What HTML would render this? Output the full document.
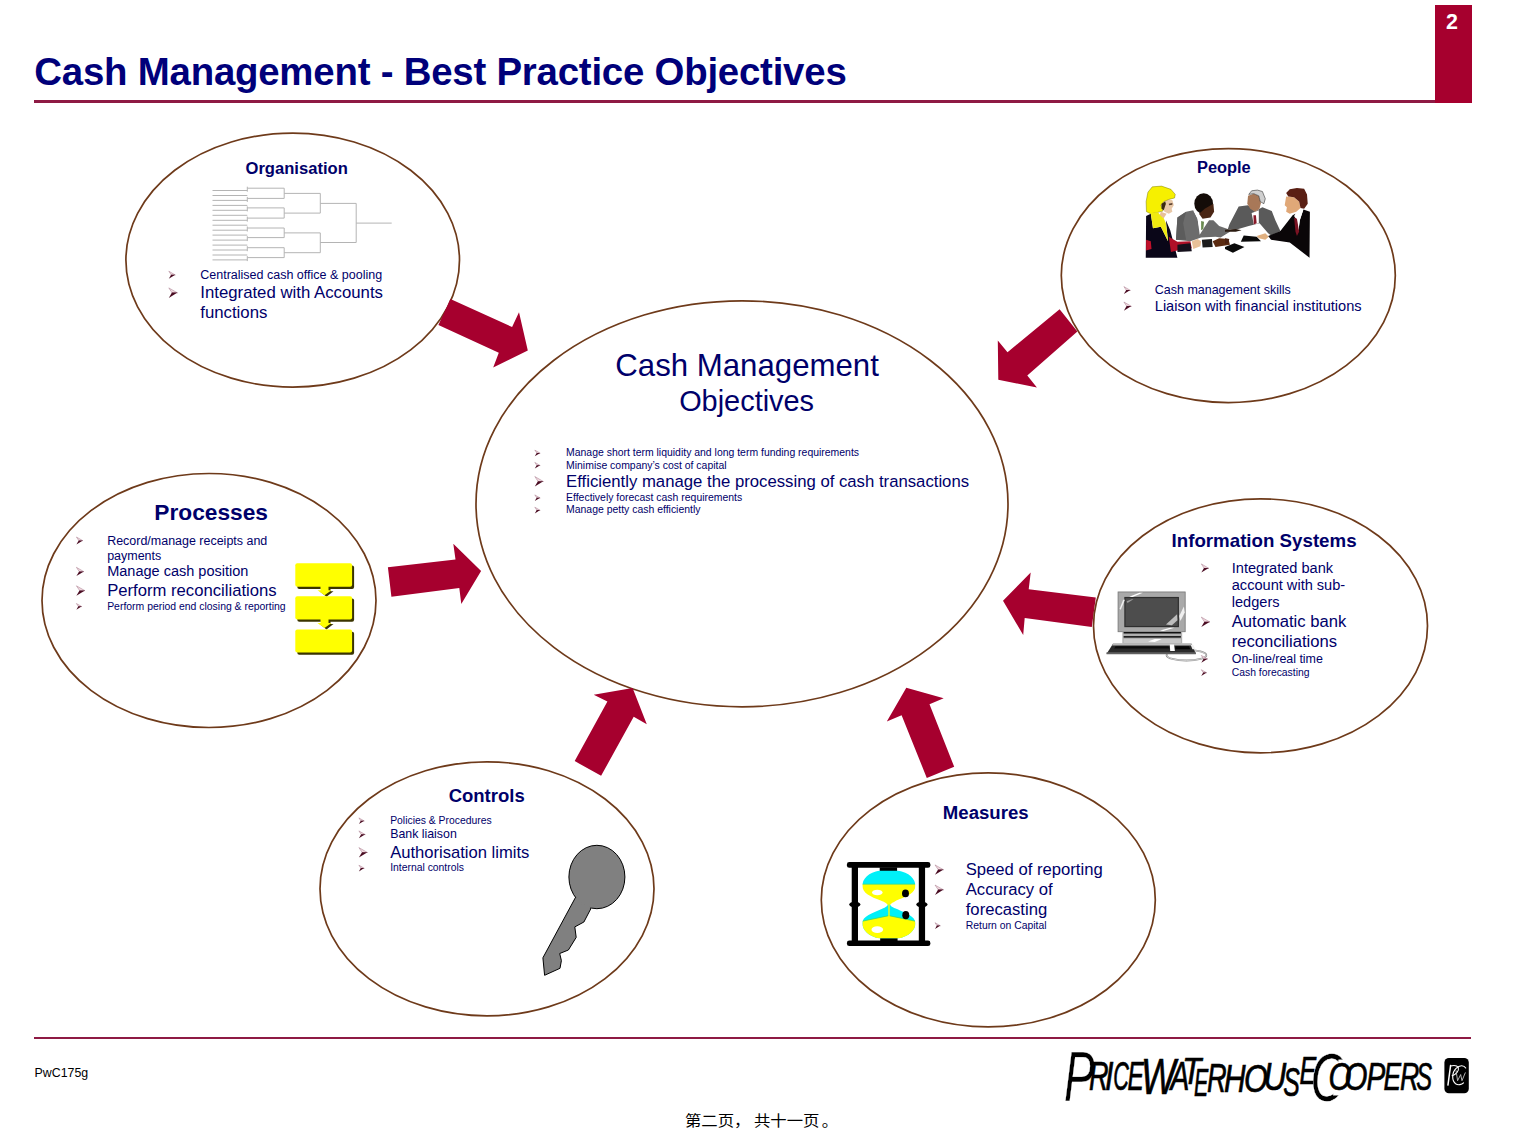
<!DOCTYPE html>
<html><head><meta charset="utf-8"><title>Cash Management - Best Practice Objectives</title>
<style>
html,body{margin:0;padding:0;background:#fff;}
body{width:1521px;height:1140px;position:relative;overflow:hidden;font-family:"Liberation Sans","Noto Sans CJK SC",sans-serif;}
.t{position:absolute;white-space:nowrap;line-height:1;margin:0;}
svg{position:absolute;left:0;top:0;}
.bar{position:absolute;background:#a6002e;}
</style></head><body>

<div class="bar" style="left:34px;top:100px;width:1402px;height:2.6px;background:#8e1a44"></div>
<div class="bar" style="left:1435.3px;top:4.7px;width:36.6px;height:97.9px"></div>
<div class="bar" style="left:34px;top:1036.8px;width:1437px;height:2px;background:#8e1a44"></div>
<svg width="1521" height="1140" viewBox="0 0 1521 1140">
<ellipse cx="742.0" cy="503.8" rx="266.0" ry="203.0" fill="#fff" stroke="#6e3a1a" stroke-width="1.7"/>
<polygon points="1059.6,309.3 1077.4,331.5 1027.3,375.4 1036.9,387.4 998.3,379.7 997.8,340.6 1007.5,352.2" fill="#a6002e"/>
<polygon points="1095.8,597.5 1028.7,589.2 1030.7,572.6 1003.0,600.7 1023.2,635.0 1024.7,618.0 1091.8,627.1" fill="#a6002e"/>
<polygon points="926.8,777.9 901.6,715.3 886.8,721.6 906.3,687.7 943.7,698.2 929.5,704.2 954.2,766.8" fill="#a6002e"/>
<polygon points="387.9,567.2 455.5,559.5 453.3,543.7 481.1,571.0 461.3,603.9 459.3,588.1 391.4,596.7" fill="#a6002e"/>
<polygon points="574.7,761.1 607.4,701.6 593.7,694.7 632.6,687.9 646.8,724.2 633.7,716.8 601.1,775.8" fill="#a6002e"/>
<ellipse cx="292.7" cy="260.1" rx="166.8" ry="127.0" fill="#fff" stroke="#6e3a1a" stroke-width="1.7"/>
<ellipse cx="1228.3" cy="275.6" rx="167.0" ry="127.0" fill="#fff" stroke="#6e3a1a" stroke-width="1.7"/>
<ellipse cx="209.0" cy="600.5" rx="167.0" ry="127.0" fill="#fff" stroke="#6e3a1a" stroke-width="1.7"/>
<ellipse cx="1260.5" cy="625.8" rx="167.0" ry="127.0" fill="#fff" stroke="#6e3a1a" stroke-width="1.7"/>
<ellipse cx="487.0" cy="888.8" rx="167.0" ry="127.0" fill="#fff" stroke="#6e3a1a" stroke-width="1.7"/>
<ellipse cx="988.3" cy="899.9" rx="167.0" ry="127.0" fill="#fff" stroke="#6e3a1a" stroke-width="1.7"/>
<polygon points="450.4,298.9 512.1,327.0 519.0,312.2 527.8,350.5 493.2,367.5 498.8,352.8 438.4,325.1" fill="#a6002e"/>
<path d="M212.5 190.5H247.3 M212.5 195.5H247.3 M212.5 200.4H247.3 M212.5 205.4H247.3 M212.5 210.3H247.3 M212.5 215.3H247.3 M212.5 220.3H247.3 M212.5 225.2H247.3 M212.5 230.2H247.3 M212.5 235.1H247.3 M212.5 240.1H247.3 M212.5 245.1H247.3 M212.5 250.0H247.3 M212.5 255.0H247.3 M212.5 259.9H247.3 M247.3 188.2H284.2 M247.3 198.4H284.2 M247.3 207.9H284.2 M247.3 218.1H284.2 M247.3 228.0H284.2 M247.3 237.6H284.2 M247.3 247.7H284.2 M247.3 257.6H284.2 M247.3 186.7V191.7 M247.3 196.9V201.9 M247.3 206.4V211.4 M247.3 216.6V221.6 M247.3 226.5V231.5 M247.3 236.1V241.1 M247.3 246.2V251.2 M247.3 256.1V261.1 M284.2 188.2V198.4 M284.2 207.9V218.1 M284.2 228.0V237.6 M284.2 247.7V257.6 M284.2 193.4H320.3 M284.2 213.1H320.3 M284.2 232.9H320.3 M284.2 252.7H320.3 M320.3 193.4V213.1 M320.3 232.9V252.7 M320.3 203.4H356.2 M320.3 242.5H356.2 M356.2 203.4V242.5 M356.2 223.1H391.7" fill="none" stroke="#b4b4b4" stroke-width="1"/>
<g transform="translate(1140,180) scale(0.07194)"><polygon points="85,500 150,470 180,670 290,650 390,850 360,560 420,700 520,1080 80,1080" fill="#0a0618" /><polygon points="85,830 150,850 160,960 85,980" fill="#c0102a" /><polygon points="400,790 520,860 700,850 720,950 520,980 430,1000" fill="#b01028" /><polygon points="520,900 700,880 720,990 520,1000" fill="#15101c" /><polygon points="290,440 370,470 330,530 270,500" fill="#e8c098" /><polygon points="330,300 400,270 450,280 470,350 440,400 450,440 400,470 340,440 290,350" fill="#e8c8a8" /><polygon points="90,440 85,300 110,170 170,95 300,85 430,130 490,200 480,250 400,270 330,300 290,350 320,430 250,450 150,470" fill="#f6f000" stroke="#6a6a00" stroke-width="6"/><polygon points="150,460 250,450 290,500 330,530 360,600 390,850 290,650 180,670" fill="#f0ea10" /><polygon points="720,850 800,820 850,850 840,920 740,960" fill="#e8c098" /><polygon points="300,330 350,300 360,330 330,420 300,400" fill="#3a2a10" /><polygon points="400,330 450,320 450,345 405,350" fill="#5a4030" /><polygon points="520,520 640,440 740,420 800,540 830,760 900,650 960,560 1020,560 1100,640 1250,690 1250,720 1120,800 1050,790 850,800 700,850 500,830" fill="#6c6c6c" /><polygon points="520,520 640,440 600,600 640,830 500,830" fill="#5c5c5c" /><polygon points="740,420 800,470 850,560 830,700 800,540" fill="#ffffff" /><polygon points="850,570 890,580 880,680 850,700" fill="#6a8a50" /><ellipse cx="885" cy="330" rx="130" ry="145" fill="#140c08"/><polygon points="900,400 1020,330 1030,440 980,520 870,540 820,470" fill="#4a2614" /><polygon points="860,830 1000,820 1010,930 870,940" fill="#1c1c1c" /><polygon points="1010,850 1100,810 1230,820 1250,900 1050,930" fill="#5a2a10" /></g>
<g transform="translate(1225,180) scale(0.07194)"><polygon points="190,370 320,350 420,440 480,400 520,380 650,430 700,560 770,710 640,770 600,740 480,600 330,640 150,690 40,680 60,620" fill="#5a5a5a" /><polygon points="370,460 420,440 470,420 470,600 400,620" fill="#ffffff" /><polygon points="395,490 430,490 440,600 400,620" fill="#8a1a2a" /><polygon points="320,220 400,190 470,220 500,320 480,400 420,440 350,400 310,330" fill="#a87858" /><polygon points="330,200 370,150 450,140 520,160 560,260 540,330 490,300 470,220 400,190" fill="#d0d0d0" stroke="#303030" stroke-width="8"/><polygon points="260,770 440,790 500,850 220,860" fill="#0a0a0a" /><polygon points="440,780 560,740 610,790 560,830 470,810" fill="#e0b080" /><polygon points="0,690 150,680 230,700 150,720 0,720" fill="#2a1a10" /><polygon points="0,930 130,880 270,930 110,1010 0,960" fill="#0a0a0a" /><polygon points="0,810 60,820 40,880 0,890" fill="#4a2010" /><polygon points="940,490 980,470 1000,560 1020,720 1040,560 1090,410 1180,440 1175,1080 900,870 640,830 600,780 770,710" fill="#0a0608" /><polygon points="980,470 1090,410 1040,560 1020,700 1000,560 960,500" fill="#ffffff" /><polygon points="960,520 1000,540 1030,720 1000,780 980,720" fill="#7a1222" /><polygon points="850,230 960,240 1030,300 1050,390 990,440 900,470 850,440 860,380 830,350" fill="#e0a878" /><polygon points="850,180 900,130 1000,110 1100,120 1140,200 1150,330 1100,400 1050,390 1030,300 960,240 880,230" fill="#5a1f14" /></g>
<rect x="297.3" y="565.4" width="56.8" height="23.6" rx="2" fill="#3a3400"/><rect x="297.3" y="598.5" width="56.8" height="23.2" rx="2" fill="#3a3400"/><rect x="297.3" y="631.7" width="56.8" height="23.1" rx="2" fill="#3a3400"/><polygon points="322.5,586.8 330.5,586.8 330.5,591.3 333.5,591.3 326.5,596.8 319.5,591.3 322.5,591.3" fill="#3a3400"/><polygon points="322.5,619.5 330.5,619.5 330.5,624.0 333.5,624.0 326.5,629.5 319.5,624.0 322.5,624.0" fill="#3a3400"/><rect x="295.3" y="563.2" width="56.8" height="23.6" rx="2" fill="#ffff00"/><rect x="295.3" y="596.3" width="56.8" height="23.2" rx="2" fill="#ffff00"/><rect x="295.3" y="629.5" width="56.8" height="23.1" rx="2" fill="#ffff00"/><polygon points="320.5,585.8 328.5,585.8 328.5,590.3 331.5,590.3 324.5,595.3 317.5,590.3 320.5,590.3" fill="#ffff00"/><polygon points="320.5,618.5 328.5,618.5 328.5,623.0 331.5,623.0 324.5,628.0 317.5,623.0 320.5,623.0" fill="#ffff00"/>
<g transform="translate(1095,580) scale(0.08547)"><ellipse cx="1070" cy="880" rx="232" ry="62" fill="none" stroke="#909090" stroke-width="22"/><ellipse cx="1070" cy="880" rx="232" ry="62" fill="none" stroke="#e8e8e8" stroke-width="8"/><rect x="270" y="140" width="785" height="465" fill="#a9a9a9" stroke="#7a7a7a" stroke-width="10"/><rect x="350" y="205" width="625" height="340" fill="#4d4d4d" stroke="#2e2e2e" stroke-width="14"/><polygon points="400,195 520,150 560,150 440,200" fill="#ffffff" /><polygon points="290,330 330,230 350,230 300,350" fill="#f0f0f0" /><polygon points="985,420 1040,310 1050,380 1000,480" fill="#f0f0f0" /><polygon points="830,520 960,400 965,470 900,530" fill="#bdbdbd" /><polygon points="370,250 430,225 450,225 380,270" fill="#9a9a9a" /><polygon points="760,590 880,560 930,560 800,598" fill="#ffffff" /><rect x="320" y="605" width="700" height="135" fill="#b0b0b0"/><rect x="335" y="608" width="670" height="18" fill="#101010"/><rect x="335" y="655" width="670" height="20" fill="#202020"/><rect x="335" y="690" width="670" height="50" fill="#c8c8c8"/><polygon points="620,720 700,690 780,690 700,725" fill="#ffffff" /><polygon points="210,745 1130,745 1180,865 135,865" fill="#2a2a2a" /><polygon points="210,745 1130,745 1140,765 200,765" fill="#b8b8b8" /><polygon points="240,775 860,775 870,800 225,800" fill="#0c0c0c" /><polygon points="940,775 1100,775 1115,810 940,810" fill="#050505" /><polygon points="875,755 925,755 935,830 880,830" fill="#ffffff" /><polygon points="1120,760 1150,760 1175,810 1140,810" fill="#f0f0f0" /><polygon points="135,845 1180,845 1180,868 135,868" fill="#606060" /></g>
<path d="M575.5 897.4 L542.9 957.8 L544.6 975.3 L560.0 968.3 L561.4 960.6 L559.7 953.5 L568.4 950.0 L576.2 937.4 L574.8 926.9 L583.9 922.0 L590.9 908.6 Z" fill="#808080" stroke="#000" stroke-width="1" stroke-linejoin="round"/>
<ellipse cx="596.9" cy="877" rx="28" ry="31.7" fill="#808080" stroke="#000" stroke-width="1"/>
<clipPath id="kc"><polygon points="579.1,892.5 573.4,903.1 587.3,913.5 592.9,902.9"/></clipPath>
<ellipse cx="596.9" cy="877" rx="28" ry="31.7" fill="none" stroke="#808080" stroke-width="2.4" clip-path="url(#kc)"/>
<g transform="translate(830,850) scale(0.09653)"><rect x="175" y="125" width="865" height="60" rx="25" fill="#000"/><rect x="175" y="938" width="865" height="57" rx="25" fill="#000"/><rect x="225" y="150" width="65" height="810" fill="#000"/><rect x="920" y="150" width="65" height="810" fill="#000"/><ellipse cx="257" cy="565" rx="58" ry="30" fill="#000"/><ellipse cx="952" cy="565" rx="58" ry="30" fill="#000"/><rect x="515" y="180" width="180" height="40" fill="#000"/><rect x="520" y="905" width="180" height="40" fill="#000"/><clipPath id="ub"><path d="M515 212 C400 230 335 300 335 370 C335 445 420 485 525 522 C575 542 596 556 599 572 L623 572 C626 556 655 540 705 515 C795 480 885 445 885 370 C885 300 820 230 700 212 Z"/></clipPath><g clip-path="url(#ub)"><rect x="300" y="200" width="620" height="155" fill="#00f0f8"/><rect x="300" y="355" width="620" height="230" fill="#ffff00"/><rect x="300" y="350" width="620" height="8" fill="#40d860"/></g><clipPath id="lb"><path d="M599 565 C596 580 585 590 535 612 C440 655 335 685 335 760 C335 830 400 900 520 918 L700 918 C820 900 885 830 885 760 C885 685 780 655 700 615 C645 595 626 580 623 565 Z"/></clipPath><g clip-path="url(#lb)"><rect x="300" y="560" width="620" height="370" fill="#00f0f8"/><path d="M300 745 L610 680 L920 745 L920 940 L300 940 Z" fill="#ffff00"/><path d="M300 745 L610 680 L920 745" fill="none" stroke="#40d860" stroke-width="8"/><rect x="604" y="560" width="14" height="140" fill="#ffff00"/></g><ellipse cx="782" cy="450" rx="36" ry="40" fill="#000"/><ellipse cx="785" cy="675" rx="36" ry="42" fill="#000"/><ellipse cx="490" cy="440" rx="55" ry="28" fill="#fff"/><ellipse cx="490" cy="825" rx="60" ry="35" fill="#fff"/></g>
<polygon points="168.8,271.2 175.3,275.0 171.3,275.0" fill="#f1d9e0" stroke="#a5788a" stroke-width="0.5"/>
<polygon points="168.8,278.7 175.3,274.7 171.1,274.7" fill="#4a0c22"/>
<polygon points="168.8,287.9 177.5,292.9 172.1,292.9" fill="#f1d9e0" stroke="#a5788a" stroke-width="0.5"/>
<polygon points="168.8,297.9 177.5,292.6 171.9,292.6" fill="#4a0c22"/>
<polygon points="1123.9,286.6 1130.4,290.4 1126.4,290.4" fill="#f1d9e0" stroke="#a5788a" stroke-width="0.5"/>
<polygon points="1123.9,294.1 1130.4,290.1 1126.2,290.1" fill="#4a0c22"/>
<polygon points="1123.9,302.0 1131.4,306.3 1126.8,306.3" fill="#f1d9e0" stroke="#a5788a" stroke-width="0.5"/>
<polygon points="1123.9,310.7 1131.4,306.0 1126.6,306.0" fill="#4a0c22"/>
<polygon points="534.8,450.1 540.2,453.2 536.9,453.2" fill="#f1d9e0" stroke="#a5788a" stroke-width="0.5"/>
<polygon points="534.8,456.3 540.2,452.9 536.7,452.9" fill="#4a0c22"/>
<polygon points="534.8,462.4 540.2,465.5 536.9,465.5" fill="#f1d9e0" stroke="#a5788a" stroke-width="0.5"/>
<polygon points="534.8,468.6 540.2,465.2 536.7,465.2" fill="#4a0c22"/>
<polygon points="534.8,476.5 543.4,481.5 538.1,481.5" fill="#f1d9e0" stroke="#a5788a" stroke-width="0.5"/>
<polygon points="534.8,486.5 543.4,481.2 537.9,481.2" fill="#4a0c22"/>
<polygon points="534.8,494.9 540.2,498.0 536.9,498.0" fill="#f1d9e0" stroke="#a5788a" stroke-width="0.5"/>
<polygon points="534.8,501.1 540.2,497.7 536.7,497.7" fill="#4a0c22"/>
<polygon points="534.8,507.2 540.2,510.3 536.9,510.3" fill="#f1d9e0" stroke="#a5788a" stroke-width="0.5"/>
<polygon points="534.8,513.4 540.2,510.0 536.7,510.0" fill="#4a0c22"/>
<polygon points="76.4,537.0 82.9,540.7 78.9,540.7" fill="#f1d9e0" stroke="#a5788a" stroke-width="0.5"/>
<polygon points="76.4,544.4 82.9,540.4 78.7,540.4" fill="#4a0c22"/>
<polygon points="76.4,567.3 83.9,571.7 79.3,571.7" fill="#f1d9e0" stroke="#a5788a" stroke-width="0.5"/>
<polygon points="76.4,576.0 83.9,571.4 79.1,571.4" fill="#4a0c22"/>
<polygon points="76.4,585.8 85.0,590.7 79.7,590.7" fill="#f1d9e0" stroke="#a5788a" stroke-width="0.5"/>
<polygon points="76.4,595.7 85.0,590.4 79.5,590.4" fill="#4a0c22"/>
<polygon points="76.4,603.5 81.8,606.6 78.4,606.6" fill="#f1d9e0" stroke="#a5788a" stroke-width="0.5"/>
<polygon points="76.4,609.7 81.8,606.3 78.3,606.3" fill="#4a0c22"/>
<polygon points="1201.3,563.9 1208.8,568.3 1204.2,568.3" fill="#f1d9e0" stroke="#a5788a" stroke-width="0.5"/>
<polygon points="1201.3,572.6 1208.8,568.0 1204.0,568.0" fill="#4a0c22"/>
<polygon points="1201.3,617.1 1209.9,622.0 1204.6,622.0" fill="#f1d9e0" stroke="#a5788a" stroke-width="0.5"/>
<polygon points="1201.3,627.0 1209.9,621.7 1204.4,621.7" fill="#4a0c22"/>
<polygon points="1201.3,655.4 1207.7,659.1 1203.7,659.1" fill="#f1d9e0" stroke="#a5788a" stroke-width="0.5"/>
<polygon points="1201.3,662.8 1207.7,658.8 1203.6,658.8" fill="#4a0c22"/>
<polygon points="1201.3,669.7 1206.7,672.8 1203.3,672.8" fill="#f1d9e0" stroke="#a5788a" stroke-width="0.5"/>
<polygon points="1201.3,675.9 1206.7,672.5 1203.2,672.5" fill="#4a0c22"/>
<polygon points="358.9,817.9 364.3,821.0 360.9,821.0" fill="#f1d9e0" stroke="#a5788a" stroke-width="0.5"/>
<polygon points="358.9,824.1 364.3,820.7 360.8,820.7" fill="#4a0c22"/>
<polygon points="358.9,830.9 365.3,834.6 361.3,834.6" fill="#f1d9e0" stroke="#a5788a" stroke-width="0.5"/>
<polygon points="358.9,838.3 365.3,834.3 361.2,834.3" fill="#4a0c22"/>
<polygon points="358.9,847.6 367.5,852.5 362.2,852.5" fill="#f1d9e0" stroke="#a5788a" stroke-width="0.5"/>
<polygon points="358.9,857.5 367.5,852.2 362.0,852.2" fill="#4a0c22"/>
<polygon points="358.9,865.2 364.3,868.3 360.9,868.3" fill="#f1d9e0" stroke="#a5788a" stroke-width="0.5"/>
<polygon points="358.9,871.4 364.3,868.0 360.8,868.0" fill="#4a0c22"/>
<polygon points="935.0,864.9 943.6,869.8 938.3,869.8" fill="#f1d9e0" stroke="#a5788a" stroke-width="0.5"/>
<polygon points="935.0,874.8 943.6,869.5 938.1,869.5" fill="#4a0c22"/>
<polygon points="935.0,885.0 943.6,889.9 938.3,889.9" fill="#f1d9e0" stroke="#a5788a" stroke-width="0.5"/>
<polygon points="935.0,894.9 943.6,889.6 938.1,889.6" fill="#4a0c22"/>
<polygon points="935.0,922.7 940.4,925.8 937.0,925.8" fill="#f1d9e0" stroke="#a5788a" stroke-width="0.5"/>
<polygon points="935.0,928.9 940.4,925.5 936.9,925.5" fill="#4a0c22"/>
</svg>
<svg width="1521" height="1140" viewBox="0 0 1521 1140" style="font-family:'Liberation Sans','Noto Sans CJK SC',sans-serif">
<text x="34.32" y="85.00" font-size="38.40" font-weight="bold" fill="#00007a" letter-spacing="-0.22">Cash Management - Best Practice Objectives</text>
<text x="245.52" y="173.60" font-size="16.59" font-weight="bold" fill="#00006a">Organisation</text>
<text x="200.27" y="279.10" font-size="12.51" font-weight="normal" fill="#00006a">Centralised cash office &amp; pooling</text>
<text x="200.27" y="298.30" font-size="16.77" font-weight="normal" fill="#00006a">Integrated with Accounts</text>
<text x="200.27" y="317.90" font-size="16.77" font-weight="normal" fill="#00006a">functions</text>
<text x="1197.00" y="172.50" font-size="16.39" font-weight="bold" fill="#00006a">People</text>
<text x="1154.77" y="293.70" font-size="12.49" font-weight="normal" fill="#00006a">Cash management skills</text>
<text x="1154.77" y="311.10" font-size="14.60" font-weight="normal" fill="#00006a">Liaison with financial institutions</text>
<text x="615.32" y="375.70" font-size="31.20" font-weight="normal" fill="#00006a">Cash Management</text>
<text x="679.13" y="411.00" font-size="28.92" font-weight="normal" fill="#00006a">Objectives</text>
<text x="566.05" y="456.10" font-size="10.44" font-weight="normal" fill="#00006a">Manage short term liquidity and long term funding requirements</text>
<text x="566.05" y="468.70" font-size="10.44" font-weight="normal" fill="#00006a">Minimise company’s cost of capital</text>
<text x="566.05" y="486.50" font-size="16.73" font-weight="normal" fill="#00006a">Efficiently manage the processing of cash transactions</text>
<text x="566.05" y="500.90" font-size="10.44" font-weight="normal" fill="#00006a">Effectively forecast cash requirements</text>
<text x="566.05" y="513.40" font-size="10.44" font-weight="normal" fill="#00006a">Manage petty cash efficiently</text>
<text x="154.28" y="519.90" font-size="22.72" font-weight="bold" fill="#00006a">Processes</text>
<text x="107.18" y="544.80" font-size="12.48" font-weight="normal" fill="#00006a">Record/manage receipts and</text>
<text x="107.18" y="559.60" font-size="12.48" font-weight="normal" fill="#00006a">payments</text>
<text x="107.18" y="576.40" font-size="14.53" font-weight="normal" fill="#00006a">Manage cash position</text>
<text x="107.18" y="596.10" font-size="16.66" font-weight="normal" fill="#00006a">Perform reconciliations</text>
<text x="107.18" y="609.70" font-size="10.43" font-weight="normal" fill="#00006a">Perform period end closing &amp; reporting</text>
<text x="1171.55" y="547.20" font-size="18.72" font-weight="bold" fill="#00006a">Information Systems</text>
<text x="1231.76" y="573.00" font-size="14.58" font-weight="normal" fill="#00006a">Integrated bank</text>
<text x="1231.76" y="590.30" font-size="14.58" font-weight="normal" fill="#00006a">account with sub-</text>
<text x="1231.76" y="607.30" font-size="14.58" font-weight="normal" fill="#00006a">ledgers</text>
<text x="1231.76" y="627.40" font-size="16.62" font-weight="normal" fill="#00006a">Automatic bank</text>
<text x="1231.76" y="647.10" font-size="16.62" font-weight="normal" fill="#00006a">reconciliations</text>
<text x="1231.76" y="663.20" font-size="12.43" font-weight="normal" fill="#00006a">On-line/real time</text>
<text x="1231.76" y="676.30" font-size="10.36" font-weight="normal" fill="#00006a">Cash forecasting</text>
<text x="448.64" y="801.50" font-size="18.52" font-weight="bold" fill="#00006a">Controls</text>
<text x="390.15" y="823.80" font-size="10.38" font-weight="normal" fill="#00006a">Policies &amp; Procedures</text>
<text x="390.15" y="838.10" font-size="12.37" font-weight="normal" fill="#00006a">Bank liaison</text>
<text x="390.15" y="857.90" font-size="16.60" font-weight="normal" fill="#00006a">Authorisation limits</text>
<text x="390.15" y="871.20" font-size="10.38" font-weight="normal" fill="#00006a">Internal controls</text>
<text x="942.86" y="818.90" font-size="18.58" font-weight="bold" fill="#00006a">Measures</text>
<text x="965.75" y="875.20" font-size="16.65" font-weight="normal" fill="#00006a">Speed of reporting</text>
<text x="965.75" y="895.30" font-size="16.65" font-weight="normal" fill="#00006a">Accuracy of</text>
<text x="965.75" y="915.30" font-size="16.65" font-weight="normal" fill="#00006a">forecasting</text>
<text x="965.75" y="929.30" font-size="10.38" font-weight="normal" fill="#00006a">Return on Capital</text>
<text x="34.59" y="1076.50" font-size="12.36" font-weight="normal" fill="#000">PwC175g</text>
</svg>
<div class="t" style="left:1446px;top:12.48px;font-size:21.4px;font-weight:bold;color:#fff">2</div>
<div class="t" style="left:684.9px;top:1112px;font-size:16.4px;color:#000;transform:scaleY(0.93);transform-origin:0 100%">第二页，<span style="margin-left:3.5px">共十一页</span><span style="margin-left:2.3px">。</span></div>
<svg width="1521" height="1140" viewBox="0 0 1521 1140" style="font-family:'Liberation Sans',sans-serif;font-style:italic" fill="#000" stroke="#000" stroke-width="0.7"><text transform="translate(1064.10,1100.70) scale(0.661,1)" font-size="69.6" stroke="#fff" stroke-width="0.4">P</text><text transform="translate(1088.90,1090.30) scale(0.675,1)" font-size="40.1">R</text><text transform="translate(1105.10,1090.30) scale(0.758,1)" font-size="40.1">I</text><text transform="translate(1113.30,1090.30) scale(0.538,1)" font-size="40.1">C</text><text transform="translate(1127.50,1090.30) scale(0.614,1)" font-size="40.1">E</text><text transform="translate(1141.00,1093.80) scale(0.746,1)" font-size="49.1">W</text><text transform="translate(1170.40,1090.30) scale(0.703,1)" font-size="40.1">A</text><text transform="translate(1182.20,1084.00) scale(0.831,1)" font-size="37.4">T</text><text transform="translate(1193.90,1095.80) scale(0.547,1)" font-size="39.1">E</text><text transform="translate(1206.90,1092.40) scale(0.679,1)" font-size="40.1">R</text><text transform="translate(1224.10,1092.40) scale(0.785,1)" font-size="38.1">H</text><text transform="translate(1244.00,1092.00) scale(0.777,1)" font-size="39.4">O</text><text transform="translate(1263.40,1090.00) scale(0.806,1)" font-size="39.0">U</text><text transform="translate(1283.30,1096.40) scale(0.622,1)" font-size="40.0">S</text><text transform="translate(1299.50,1084.40) scale(0.662,1)" font-size="37.9">E</text><clipPath id="cc"><path clip-rule="evenodd" d="M1300 1040H1360V1110H1300Z M1338.5 1059.5L1352 1059.5L1346 1095.5L1333 1095.5Z"/></clipPath><g clip-path="url(#cc)"><text transform="translate(1310.40,1100.70) scale(0.686,1)" font-size="68.9" stroke="#fff" stroke-width="0.4">C</text></g><text transform="translate(1328.40,1090.00) scale(0.756,1)" font-size="39.0">O</text><text transform="translate(1344.60,1090.00) scale(0.756,1)" font-size="39.0">O</text><text transform="translate(1366.50,1090.00) scale(0.721,1)" font-size="39.0">P</text><text transform="translate(1383.60,1090.00) scale(0.676,1)" font-size="39.0">E</text><text transform="translate(1399.90,1090.00) scale(0.684,1)" font-size="39.0">R</text><text transform="translate(1416.20,1090.00) scale(0.609,1)" font-size="39.0">S</text></svg>
<svg width="1521" height="1140" viewBox="0 0 1521 1140"><rect x="1444.4" y="1058" width="24.4" height="35.2" rx="4.5" fill="#000"/><g transform="translate(1435,1050) scale(0.04386)" fill="none" stroke="#fff" stroke-linecap="round" stroke-linejoin="round"><path d="M295 800 L355 355" stroke-width="34"/><path d="M350 365 C420 350 500 340 530 400 C555 470 480 560 390 585" stroke-width="24"/><path d="M700 410 C660 340 560 340 480 420 C380 520 380 700 470 770 C530 810 610 790 650 750" stroke-width="26"/><path d="M480 470 L515 700 L585 560 L615 700 L690 520" stroke-width="20" stroke="#ccc"/></g></svg>
</body></html>
